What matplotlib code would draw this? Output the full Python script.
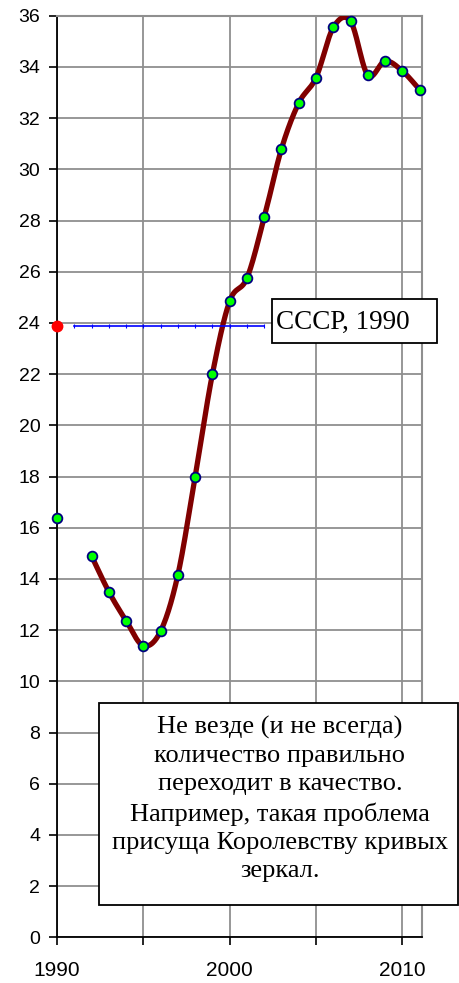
import numpy as np
import matplotlib
matplotlib.use('Agg')
import matplotlib.pyplot as plt
from matplotlib.patches import Rectangle

# Data
years = [1992, 1993, 1994, 1995, 1996, 1997, 1998, 1999, 2000, 2001,
         2002, 2003, 2004, 2005, 2006, 2007, 2008, 2009, 2010, 2011]
values = [14.9, 13.5, 12.37, 11.39, 11.96, 14.16, 18.0, 22.0, 24.85, 25.75,
          28.12, 30.8, 32.59, 33.58, 35.54, 35.78, 33.67, 34.23, 33.84, 33.11]
first_year = 1990
first_value = 16.37
ussr_year = 1990
ussr_value = 23.86
ussr_line_years = [1991, 1992, 1993, 1994, 1995, 1996, 1997, 1998, 1999, 2000, 2001, 2002]

x_ticks = [1990, 2000, 2010]
x_minor = [1995, 2005]
y_ticks = list(range(0, 37, 2))

note_ussr = 'СССР, 1990'
note_main = ('Не везде (и не всегда)\nколичество правильно\nпереходит в качество.\n'
             'Например, такая проблема\nприсуща Королевству кривых\nзеркал.')


def smooth(x, y, n=30):
    # Excel-like smoothed line: Catmull-Rom segments as cubic Bezier
    x = np.asarray(x, float)
    y = np.asarray(y, float)
    px = np.concatenate([[x[0]], x, [x[-1]]])
    py = np.concatenate([[y[0]], y, [y[-1]]])
    t = np.linspace(0, 1, n)[:, None]
    xs, ys = [], []
    for i in range(1, len(px) - 2):
        p0 = np.array([px[i], py[i]])
        p3 = np.array([px[i + 1], py[i + 1]])
        c1 = p0 + (p3 - np.array([px[i - 1], py[i - 1]])) / 6.0
        c2 = p3 - (np.array([px[i + 2], py[i + 2]]) - p0) / 6.0
        b = ((1 - t) ** 3) * p0 + 3 * ((1 - t) ** 2) * t * c1 + 3 * (1 - t) * t ** 2 * c2 + t ** 3 * p3
        xs.append(b[:, 0])
        ys.append(b[:, 1])
    return np.concatenate(xs), np.concatenate(ys)


plt.rcParams['font.family'] = ['Liberation Sans', 'DejaVu Sans']

fig = plt.figure(figsize=(4.6, 9.83), dpi=100)
ax = fig.add_axes([57 / 460, 1 - 937.3 / 983, (421.7 - 57) / 460, (937.3 - 15.7) / 983])

ax.set_xlim(1990, 2011.12)
ax.set_ylim(0, 36)

grid_c = '#8f8f8f'
ax.set_xticks(x_ticks)
ax.set_xticks(x_minor, minor=True)
ax.set_yticks(y_ticks)
ax.grid(True, which='both', color=grid_c, linewidth=1.3)
ax.set_axisbelow(True)

for s in ['top', 'right']:
    ax.spines[s].set_color(grid_c)
    ax.spines[s].set_linewidth(1.5)
for s in ['left', 'bottom']:
    ax.spines[s].set_color('black')
    ax.spines[s].set_linewidth(1.3)

ax.tick_params(axis='both', which='both', direction='out', length=6, width=1.2, color='black')
ax.tick_params(axis='x', which='major', pad=11, labelsize=15)
ax.tick_params(axis='y', pad=6, labelsize=14)

sx, sy = smooth(years, values)
ax.plot(sx, sy, color='#800000', linewidth=3.8, solid_capstyle='round', zorder=3)
ax.plot(years, values, 'o', color='#00ff00', markeredgecolor='#000080',
        markeredgewidth=1.3, markersize=7, zorder=4, clip_on=False)
ax.plot([first_year], [first_value], 'o', color='#00ff00', markeredgecolor='#000080',
        markeredgewidth=1.3, markersize=7, zorder=4, clip_on=False)

ax.plot(ussr_line_years, [ussr_value] * len(ussr_line_years), color='#0000ff',
        linewidth=1.2, marker='|', markersize=3, markeredgewidth=0.8, zorder=3)
ax.plot([ussr_year], [ussr_value], 'o', color='#ff0000', markersize=7.5,
        zorder=5, clip_on=False)

# annotation boxes (figure pixel positions)
def fig_box(x0, y0, x1, y1):
    fig.patches.append(Rectangle((x0 / 460, 1 - y1 / 983), (x1 - x0) / 460, (y1 - y0) / 983,
                                 transform=fig.transFigure, facecolor='white',
                                 edgecolor='black', linewidth=1.3, zorder=10))

fig_box(271.7, 299, 437, 343.3)
fig.text(276.5 / 460, 1 - 322 / 983, note_ussr, ha='left', va='center',
         fontfamily='Liberation Serif', fontsize=19.5, zorder=11)

fig_box(99, 703.3, 458.5, 905)
fig.text(280 / 460, 1 - 799 / 983, note_main, ha='center', va='center',
         fontfamily='Liberation Serif', fontsize=19, linespacing=1.37, zorder=11)

fig.savefig('out.png', dpi=100)
